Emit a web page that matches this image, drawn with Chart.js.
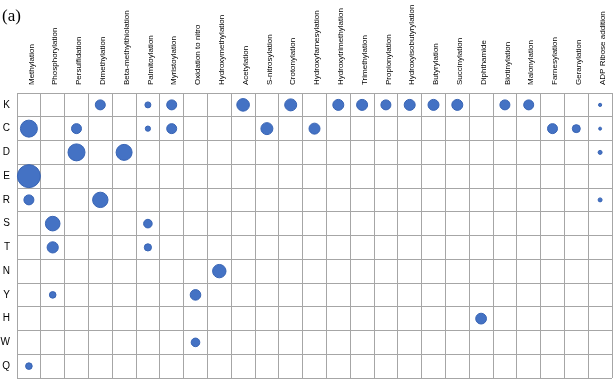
<!DOCTYPE html>
<html>
<head>
<meta charset="utf-8">
<script src="https://cdn.jsdelivr.net/npm/chart.js@4/dist/chart.umd.min.js"></script>
<style>
  html, body { margin: 0; padding: 0; background: #fff; }
  #wrap { position: relative; width: 614px; height: 380px; }
</style>
</head>
<body>
<div id="wrap"><canvas id="c" width="614" height="380"></canvas></div>
<script>
// Column categories (modification types)
const ptmTypes = [
  "Methylation", "Phosphorylation", "Persulfidation", "Dimethylation",
  "Beta-methylthiolation", "Palmitoylation", "Myristoylation", "Oxidation to nitro",
  "Hydroxymethylation", "Acetylation", "S-nitrosylation", "Crotonylation",
  "Hydroxyfarnesylation", "Hydroxytrimethylation", "Trimethylation", "Propionylation",
  "Hydroxyisobutyrylation", "Butyrylation", "Succinylation", "Diphthamide",
  "Biotinylation", "Malonylation", "Farnesylation", "Geranylation", "ADP Ribose addition"
];
// Row categories (residues)
const residues = ["K", "C", "D", "E", "R", "S", "T", "N", "Y", "H", "W", "Q"];

// Bubbles: residue, modification, relative size (bubble radius)
const cellResidue = [
  "K","K","K","K","K","K","K","K","K","K","K","K","K","K",
  "C","C","C","C","C","C","C","C","C",
  "D","D","D",
  "E",
  "R","R","R",
  "S","S",
  "T","T",
  "N",
  "Y","Y",
  "H",
  "W",
  "Q"
];
const cellPtm = [
  "Dimethylation","Palmitoylation","Myristoylation","Acetylation","Crotonylation",
  "Hydroxytrimethylation","Trimethylation","Propionylation","Hydroxyisobutyrylation",
  "Butyrylation","Succinylation","Biotinylation","Malonylation","ADP Ribose addition",
  "Methylation","Persulfidation","Palmitoylation","Myristoylation","S-nitrosylation",
  "Hydroxyfarnesylation","Farnesylation","Geranylation","ADP Ribose addition",
  "Persulfidation","Beta-methylthiolation","ADP Ribose addition",
  "Methylation",
  "Methylation","Dimethylation","ADP Ribose addition",
  "Phosphorylation","Palmitoylation",
  "Phosphorylation","Palmitoylation",
  "Hydroxymethylation",
  "Phosphorylation","Oxidation to nitro",
  "Diphthamide",
  "Oxidation to nitro",
  "Methylation"
];
const cellSize = [
  5, 3, 5, 6.3, 6, 5.5, 5.5, 5, 5.5, 5.5, 5.5, 5, 5, 1.6,
  8.5, 5, 2.6, 5, 6, 5.5, 5, 4, 1.5,
  8.5, 8, 2,
  11.5,
  5, 7.7, 2,
  7.3, 4.3,
  5.6, 3.6,
  6.7,
  3.3, 5.3,
  5.4,
  4.3,
  3.3
];

const points = cellResidue.map((res, i) => ({ x: cellPtm[i], y: res, r: cellSize[i] }));

const panelLabel = {
  id: 'panelLabel',
  afterDraw(chart) {
    const ctx = chart.ctx;
    ctx.save();
    ctx.fillStyle = '#000';
    ctx.font = '17px "Liberation Serif", serif';
    ctx.textBaseline = 'alphabetic';
    ctx.textAlign = 'left';
    ctx.fillText('(a)', 2, 21);
    ctx.restore();
  }
};

new Chart(document.getElementById('c'), {
  type: 'bubble',
  data: {
    datasets: [{
      data: points,
      backgroundColor: '#4472C4',
      borderColor: '#3864B4',
      borderWidth: 1,
      hoverRadius: 0
    }]
  },
  options: {
    responsive: false,
    animation: false,
    layout: { autoPadding: false, padding: { left: 0, right: 2, top: 0, bottom: 2 } },
    plugins: { legend: { display: false }, tooltip: { enabled: false } },
    scales: {
      x: {
        type: 'category',
        labels: ptmTypes,
        position: 'top',
        offset: true,
        grid: { offset: true, color: '#a6a6a6', lineWidth: 1, drawTicks: false },
        border: { color: '#a6a6a6' },
        ticks: {
          autoSkip: false, minRotation: 90, maxRotation: 90,
          color: '#000', padding: 8, labelOffset: 12,
          font: { family: '"Liberation Sans", Arial, sans-serif', size: 8 }
        },
        afterFit(s) {
          s.height = 93;
          s.paddingLeft = 0; s.paddingRight = 0; s.paddingTop = 0; s.paddingBottom = 0;
        }
      },
      y: {
        type: 'category',
        labels: residues,
        offset: true,
        grid: { offset: true, color: '#a6a6a6', lineWidth: 1, drawTicks: false },
        border: { color: '#a6a6a6' },
        ticks: {
          color: '#000', padding: 7,
          font: { family: '"Liberation Sans", Arial, sans-serif', size: 10 }
        },
        afterFit(s) {
          s.width = 17;
          s.paddingLeft = 0; s.paddingRight = 0; s.paddingTop = 0; s.paddingBottom = 0;
        }
      }
    }
  },
  plugins: [panelLabel]
});
</script>
</body>
</html>
